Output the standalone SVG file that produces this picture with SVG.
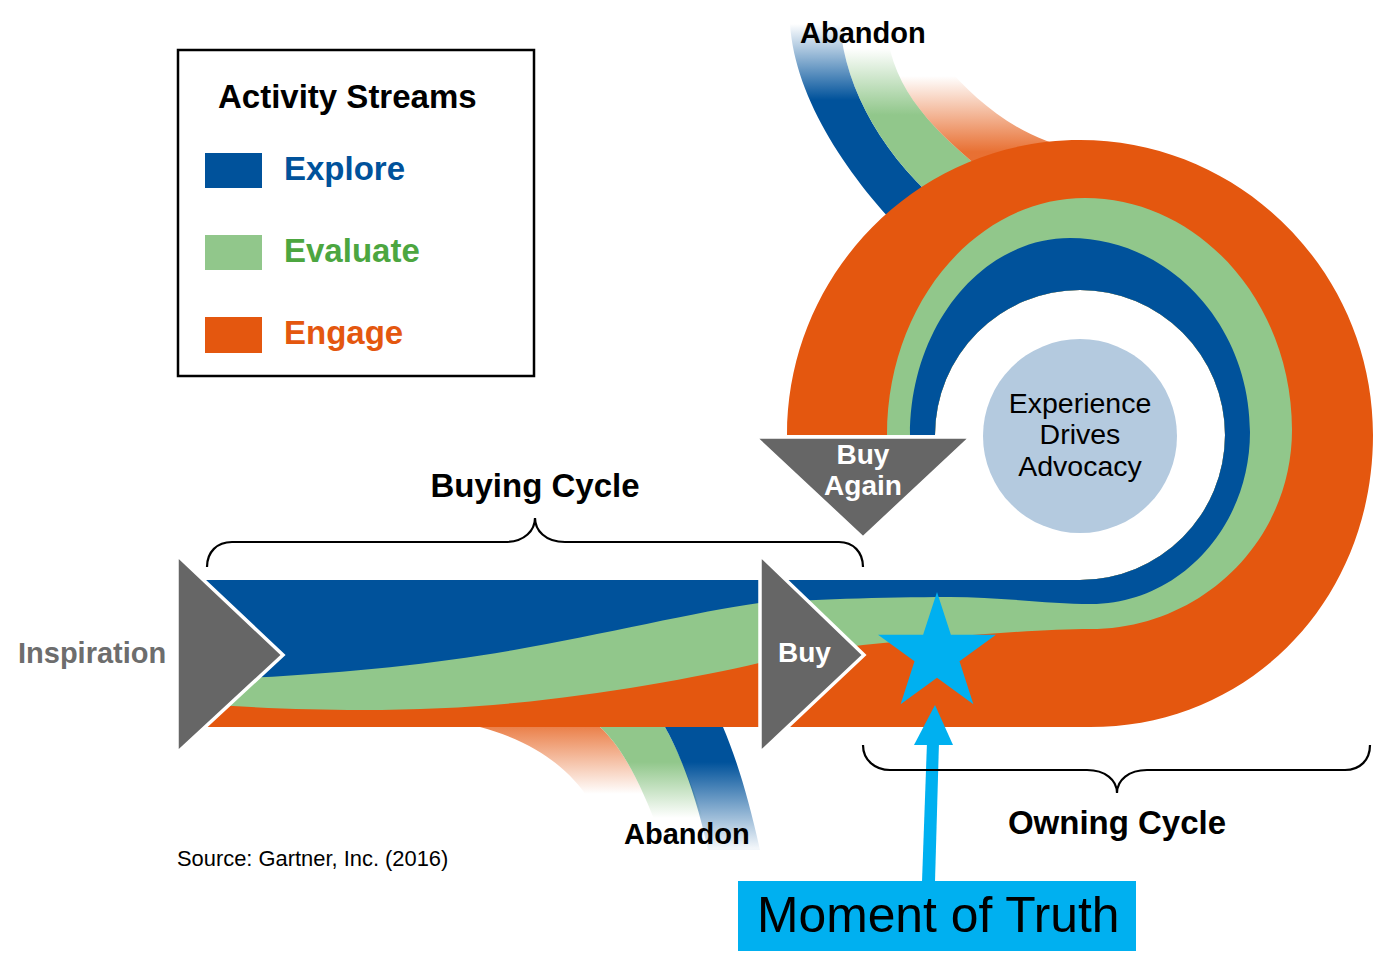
<svg xmlns="http://www.w3.org/2000/svg" width="1373" height="973" viewBox="0 0 1373 973">
<style>
  text { font-family: "Liberation Sans", Arial, Helvetica, sans-serif; }
  .bold { font-weight: bold; }
  .lbl { font-size: 33px; font-weight: bold; fill: #000; }
  .small { font-size: 29px; font-weight: bold; }
  .tri { fill: #666666; stroke: #ffffff; stroke-width: 3.5; stroke-linejoin: miter; }
  .brace { fill: none; stroke: #000; stroke-width: 2.2; }
  .blue { fill: #00529B; }
  .green { fill: #91C78B; }
  .orange { fill: #E4570F; }
  .cyan { fill: #00B0F0; }
</style>
<defs>
  <linearGradient id="gBlueTop" gradientUnits="userSpaceOnUse" x1="0" y1="24" x2="0" y2="100">
    <stop offset="0" stop-color="#00529B" stop-opacity="0"/>
    <stop offset="1" stop-color="#00529B" stop-opacity="1"/>
  </linearGradient>
  <linearGradient id="gGreenTop" gradientUnits="userSpaceOnUse" x1="0" y1="48" x2="0" y2="115">
    <stop offset="0" stop-color="#91C78B" stop-opacity="0"/>
    <stop offset="1" stop-color="#91C78B" stop-opacity="1"/>
  </linearGradient>
  <linearGradient id="gOrangeTop" gradientUnits="userSpaceOnUse" x1="0" y1="76" x2="0" y2="152">
    <stop offset="0" stop-color="#E4570F" stop-opacity="0"/>
    <stop offset="1" stop-color="#E4570F" stop-opacity="0.85"/>
  </linearGradient>
  <linearGradient id="gOrangeBot" gradientUnits="userSpaceOnUse" x1="0" y1="727" x2="0" y2="794">
    <stop offset="0" stop-color="#E4570F" stop-opacity="0.75"/>
    <stop offset="1" stop-color="#E4570F" stop-opacity="0"/>
  </linearGradient>
  <linearGradient id="gGreenBot" gradientUnits="userSpaceOnUse" x1="0" y1="762" x2="0" y2="818">
    <stop offset="0" stop-color="#91C78B" stop-opacity="1"/>
    <stop offset="1" stop-color="#91C78B" stop-opacity="0"/>
  </linearGradient>
  <linearGradient id="gBlueBot" gradientUnits="userSpaceOnUse" x1="0" y1="762" x2="0" y2="848">
    <stop offset="0" stop-color="#00529B" stop-opacity="1"/>
    <stop offset="1" stop-color="#00529B" stop-opacity="0.05"/>
  </linearGradient>
</defs>

<g id="abandon-top-streams">
  <path fill="url(#gBlueTop)" d="M790,24 C795,100 850,180 910,240 L950,212 C885,160 845,90 840,24 Z"/>
  <path fill="url(#gGreenTop)" d="M840,24 C845,90 885,160 950,212 L1000,185 C945,140 898,100 888,40 Z"/>
  <path fill="url(#gOrangeTop)" d="M888,40 C898,100 945,140 1000,185 L1080,165 L1080,150 C1020,140 975,100 945,65 Z"/>
</g>

<g id="abandon-bottom-streams">
  <path fill="url(#gOrangeBot)" d="M480,720 H600 V727 C620,745 640,780 660,835 H605 C595,800 565,750 480,727 Z"/>
  <path fill="url(#gGreenBot)" d="M600,720 H665 V727 C678,750 695,790 708,835 H660 C640,780 620,745 600,727 Z"/>
  <path fill="url(#gBlueBot)" d="M665,720 H723 V727 C735,755 748,795 760,850 H708 C695,790 678,750 665,727 Z"/>
</g>

<g id="activity-streams">
  <path id="engage-stream" class="orange" d="M200,580 H1080 A145,145 0 1 0 935,435 H787 C787,273 918,140 1080,140 C1242,140 1373,273 1373,435 C1373,600 1250,727 1090,727 H200 Z"/>
  <path id="evaluate-stream" class="green" d="M200,580 H1080 A145,145 0 1 0 935,435 H887 C887,304 976,198 1085,198 C1199,198 1292,302 1292,430 C1292,540 1202,629 1090,629 C1040,629 950,636 863,645 C820,650 780,658 759,663 C700,677 600,695 514,703 C430,711 330,713 200,704 Z"/>
  <path id="explore-stream" class="blue" d="M200,580 H1080 A145,145 0 1 0 935,435 H910 C910,326 982,238 1070,238 C1169,238 1250,325 1250,432 C1250,527 1179,604 1091,604 C1050,604 1000,597 950,597 C880,597 800,600 759,603 C700,611 600,635 514,650 C420,666 330,675 200,680 Z"/>
</g>

<g id="experience-node">
  <circle cx="1080" cy="436" r="97" fill="#B4CADF"/>
  <text x="1080" y="413" font-size="28.5" text-anchor="middle" fill="#000">Experience</text>
  <text x="1080" y="444" font-size="28.5" text-anchor="middle" fill="#000">Drives</text>
  <text x="1080" y="476" font-size="28.5" text-anchor="middle" fill="#000">Advocacy</text>
</g>

<g id="inspiration-node">
  <polygon class="tri" points="177,555 283,655 177,753"/>
  <text x="18" y="663" class="small" fill="#6D6D6D">Inspiration</text>
</g>

<g id="buy-node">
  <polygon class="tri" points="760,555 864,655 760,753"/>
  <text x="778" y="662" font-size="28" class="bold" fill="#ffffff">Buy</text>
</g>

<g id="buy-again-node">
  <polygon class="tri" points="755,437 971,437 863,538"/>
  <text x="863" y="464" font-size="28" class="bold" fill="#ffffff" text-anchor="middle">Buy</text>
  <text x="863" y="495" font-size="28" class="bold" fill="#ffffff" text-anchor="middle">Again</text>
</g>

<g id="star-node">
  <polygon class="cyan" points="937,592 950.9,634.8 996,634.8 959.5,661.3 973.4,704.2 937,677.7 900.6,704.2 914.5,661.3 878,634.8 923.1,634.8"/>
</g>

<g id="connectors">
  <polygon class="cyan" points="927,742 939,742 935,882 922,882"/>
  <polygon class="cyan" points="914,745 953,745 935,705"/>
</g>

<g id="moment-of-truth-node">
  <rect x="738" y="881" width="398" height="70" class="cyan"/>
  <text x="757" y="932" font-size="49.8" fill="#000">Moment of Truth</text>
</g>

<g id="braces">
  <path class="brace" d="M207,567 C207,552 217,542 232,542 H505 C525,542 535,530 535,518 C535,530 545,542 565,542 H839 C853,542 863,552 863,567"/>
  <path class="brace" d="M863,745 C863,760 875,770 890,770 H1087 C1105,770 1117,780 1117,793 C1117,780 1129,770 1147,770 H1345 C1360,770 1370,760 1370,745"/>
</g>

<g id="labels">
  <text x="535" y="497" class="lbl" text-anchor="middle">Buying Cycle</text>
  <text x="1117" y="834" class="lbl" text-anchor="middle">Owning Cycle</text>
  <text x="800" y="43" class="small" fill="#000">Abandon</text>
  <text x="624" y="844" class="small" fill="#000">Abandon</text>
  <text x="177" y="866" font-size="21.9" fill="#000">Source: Gartner, Inc. (2016)</text>
</g>

<g id="legend">
  <rect x="178" y="50" width="356" height="326" fill="#ffffff" stroke="#000" stroke-width="2.5"/>
  <text x="218" y="108" class="lbl">Activity Streams</text>
  <rect x="205" y="153" width="57" height="35" class="blue"/>
  <text x="284" y="180" class="lbl" style="fill:#00529B">Explore</text>
  <rect x="205" y="235" width="57" height="35" class="green"/>
  <text x="284" y="262" class="lbl" style="fill:#4CA640">Evaluate</text>
  <rect x="205" y="317" width="57" height="36" class="orange"/>
  <text x="284" y="344" class="lbl" style="fill:#E4570F">Engage</text>
</g>
</svg>
